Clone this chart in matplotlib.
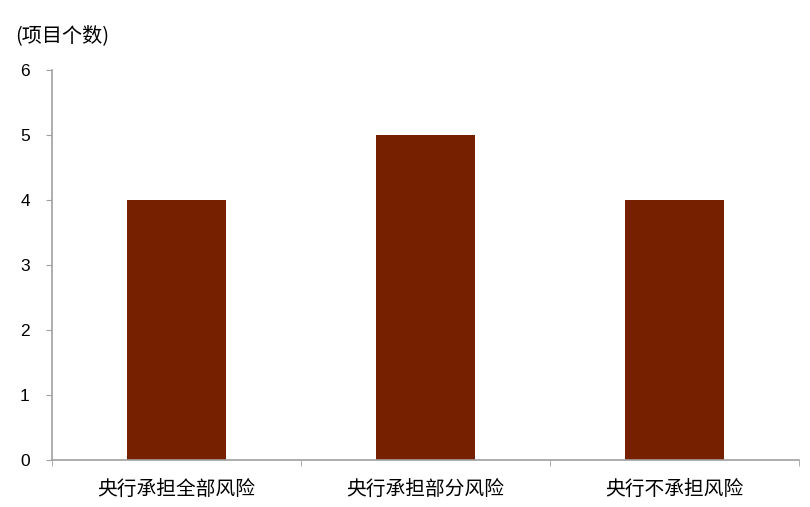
import matplotlib
matplotlib.use("Agg")
import matplotlib.pyplot as plt
import numpy as np

plt.rcParams['font.family'] = ['Noto Sans CJK SC', 'DejaVu Sans']

categories = ["央行承担全部风险", "央行承担部分风险", "央行不承担风险"]
values = [4, 5, 4]
yticks = [0, 1, 2, 3, 4, 5, 6]
ylabel = "(项目个数)"

fig = plt.figure(figsize=(8.1, 5.07), dpi=100)
ax = fig.add_axes([52/810, 47/507, (799-52)/810, (460-70)/507])

x = np.arange(len(categories))
ax.bar(x, values, width=0.4, color="#772000", zorder=2)

ax.set_xlim(-0.5, len(categories) - 0.5)
ax.set_ylim(0, 6)
ax.set_yticks(yticks)
ax.set_yticklabels([str(t) for t in yticks], fontsize=12.5, family=['Liberation Sans', 'DejaVu Sans'])

ax.set_xticks(x)
ax.set_xticklabels(categories, fontsize=14.2)
ax.set_xticks(np.arange(-0.5, len(categories)), minor=True)
ax.tick_params(axis='x', which='major', length=0, pad=14)
ax.tick_params(axis='x', which='minor', length=4.5, color="#A0A0A0", direction='out')
ax.tick_params(axis='y', length=4.5, color="#A0A0A0", direction='out', pad=11.5)

for s in ['top', 'right']:
    ax.spines[s].set_visible(False)
for s in ['left', 'bottom']:
    ax.spines[s].set_color("#A0A0A0")
    ax.spines[s].set_linewidth(1.2)

fig.text(15/810, 1 - 36/507, ylabel, fontsize=14.5, ha='left', va='center')

fig.savefig("out.png", dpi=100)
